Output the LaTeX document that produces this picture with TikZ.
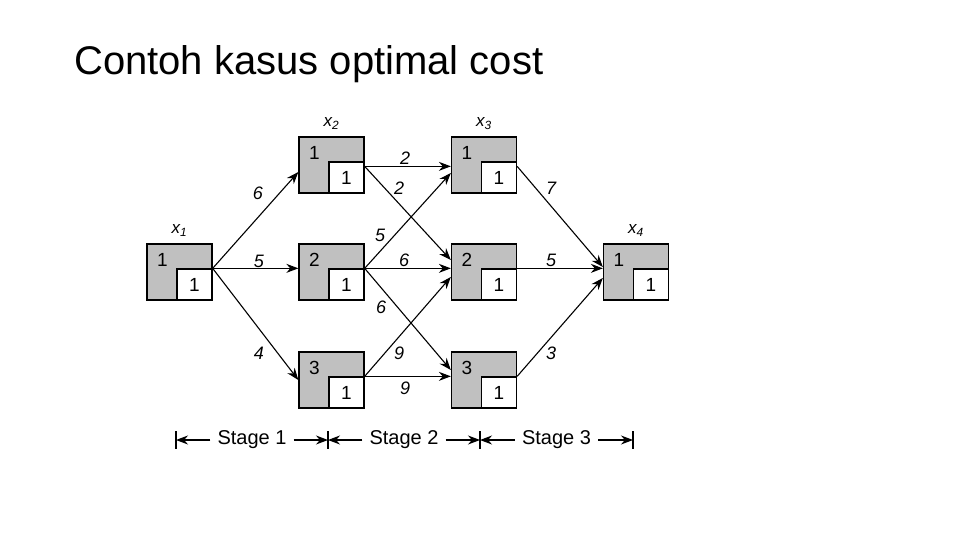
\documentclass[tikz,border=0pt]{standalone}
\usepackage{fontspec}
\setmainfont{Liberation Sans}
\usetikzlibrary{arrows.meta,positioning}
\definecolor{BoxGray}{HTML}{C0C0C0}
\tikzset{
  graybox/.style={draw=black, fill=BoxGray, line width=1.3pt, minimum width=65pt, minimum height=56pt, inner sep=0pt},
  whitebox/.style={draw=black, fill=white, line width=1.3pt, minimum width=35pt, minimum height=31pt, inner sep=0pt, anchor=south east, font=\fontsize{19}{21}\selectfont},
  graynum/.style={inner sep=0pt, font=\fontsize{19}{21}\selectfont},
  varlabel/.style={inner sep=1pt, font=\fontsize{17}{19}\selectfont\itshape},
  costlabel/.style={inner sep=0pt, font=\fontsize{18}{20}\selectfont\itshape},
  stagelabel/.style={inner xsep=7pt, inner ysep=0pt, font=\fontsize{20}{22}\selectfont},
  arrow/.style={-{Stealth[length=12pt, width=9pt]}, line width=1.1pt, draw=black},
  tick/.style={line width=1.6pt, draw=black}
}

\begin{document}
\begin{tikzpicture}[x=1pt, y=-1pt]
    \useasboundingbox (0,0) rectangle (960,540);
    \node[anchor=base west, inner sep=0pt, font=\fontsize{40}{46}\selectfont] (title) at (74,75) {Contoh kasus optimal cost};

    % stage boxes
    \node[graybox] (b1) at (179.5,272) {};
    \node[whitebox] (w1) at (b1.south east) {1};
    \node[graynum] (g1) at ([xshift=16pt,yshift=-17pt]b1.north west) {1};
    \node[graybox] (b21) at (331.5,165) {};
    \node[whitebox] (w21) at (b21.south east) {1};
    \node[graynum] (g21) at ([xshift=16pt,yshift=-17pt]b21.north west) {1};
    \node[graybox] (b22) at (331.5,272) {};
    \node[whitebox] (w22) at (b22.south east) {1};
    \node[graynum] (g22) at ([xshift=16pt,yshift=-17pt]b22.north west) {2};
    \node[graybox] (b23) at (331.5,380) {};
    \node[whitebox] (w23) at (b23.south east) {1};
    \node[graynum] (g23) at ([xshift=16pt,yshift=-17pt]b23.north west) {3};
    \node[graybox] (b31) at (484,165) {};
    \node[whitebox] (w31) at (b31.south east) {1};
    \node[graynum] (g31) at ([xshift=16pt,yshift=-17pt]b31.north west) {1};
    \node[graybox] (b32) at (484,272) {};
    \node[whitebox] (w32) at (b32.south east) {1};
    \node[graynum] (g32) at ([xshift=16pt,yshift=-17pt]b32.north west) {2};
    \node[graybox] (b33) at (484,380) {};
    \node[whitebox] (w33) at (b33.south east) {1};
    \node[graynum] (g33) at ([xshift=16pt,yshift=-17pt]b33.north west) {3};
    \node[graybox] (b4) at (636,272) {};
    \node[whitebox] (w4) at (b4.south east) {1};
    \node[graynum] (g4) at ([xshift=16pt,yshift=-17pt]b4.north west) {1};

    \node[varlabel, above=6pt of b1] (v1) {x\textsubscript{1}};
    \node[varlabel, above=6pt of b21] (v2) {x\textsubscript{2}};
    \node[varlabel, above=6pt of b31] (v3) {x\textsubscript{3}};
    \node[varlabel, above=6pt of b4] (v4) {x\textsubscript{4}};

    % stage 1
    \draw[arrow] (w1.north east) -- ([yshift=-7pt]b21.west);
    \draw[arrow] (w1.north east) -- (w1.north east -| b22.west);
    \draw[arrow] (w1.north east) -- (b23.west);
    % stage 2
    \draw[arrow] ([yshift=-5pt]w21.north east) -- ([yshift=-5pt]w21.north east -| b31.west);
    \draw[arrow] ([yshift=-5pt]w21.north east) -- ([yshift=12pt]b32.west);
    \draw[arrow] (w22.north east) -- ([yshift=-8pt]b31.west);
    \draw[arrow] (w22.north east) -- (w22.north east -| b32.west);
    \draw[arrow] (w22.north east) -- ([yshift=10pt]b33.west);
    \draw[arrow] (w23.north east) -- ([yshift=-5pt]b32.west);
    \draw[arrow] (w23.north east) -- (w23.north east -| b33.west);
    % stage 3
    \draw[arrow] ([yshift=-5pt]w31.north east) -- ([yshift=5pt]b4.west);
    \draw[arrow] (w32.north east) -- (w32.north east -| b4.west);
    \draw[arrow] (w33.north east) -- ([yshift=-6pt]b4.west);

    % costs
    \node[costlabel] (c1a) at (258,193) {6};
    \node[costlabel] (c1b) at (259,261) {5};
    \node[costlabel] (c1c) at (259,353) {4};
    \node[costlabel] (c2a) at (405,158) {2};
    \node[costlabel] (c2b) at (399,188) {2};
    \node[costlabel] (c2c) at (380,235) {5};
    \node[costlabel] (c2d) at (404,260) {6};
    \node[costlabel] (c2e) at (381,307) {6};
    \node[costlabel] (c2f) at (399,353) {9};
    \node[costlabel] (c2g) at (405,388) {9};
    \node[costlabel] (c3a) at (551,188) {7};
    \node[costlabel] (c3b) at (551,260) {5};
    \node[costlabel] (c3c) at (551,353) {3};

    % stage ruler
    \coordinate (t0) at (176,440);
    \coordinate (t1) at (328,440);
    \coordinate (t2) at (480,440);
    \coordinate (t3) at (633,440);
    \draw[tick] ([yshift=9pt]t0) -- ([yshift=-9pt]t0);
    \draw[tick] ([yshift=9pt]t1) -- ([yshift=-9pt]t1);
    \draw[tick] ([yshift=9pt]t2) -- ([yshift=-9pt]t2);
    \draw[tick] ([yshift=9pt]t3) -- ([yshift=-9pt]t3);
    \node[stagelabel] (s1) at (252,440) {Stage 1};
    \node[stagelabel] (s2) at (404,440) {Stage 2};
    \node[stagelabel] (s3) at (556.5,440) {Stage 3};
    \draw[arrow] (s1) -- (t0);
    \draw[arrow] (s1) -- (t1);
    \draw[arrow] (s2) -- (t1);
    \draw[arrow] (s2) -- (t2);
    \draw[arrow] (s3) -- (t2);
    \draw[arrow] (s3) -- (t3);
\end{tikzpicture}
\end{document}
